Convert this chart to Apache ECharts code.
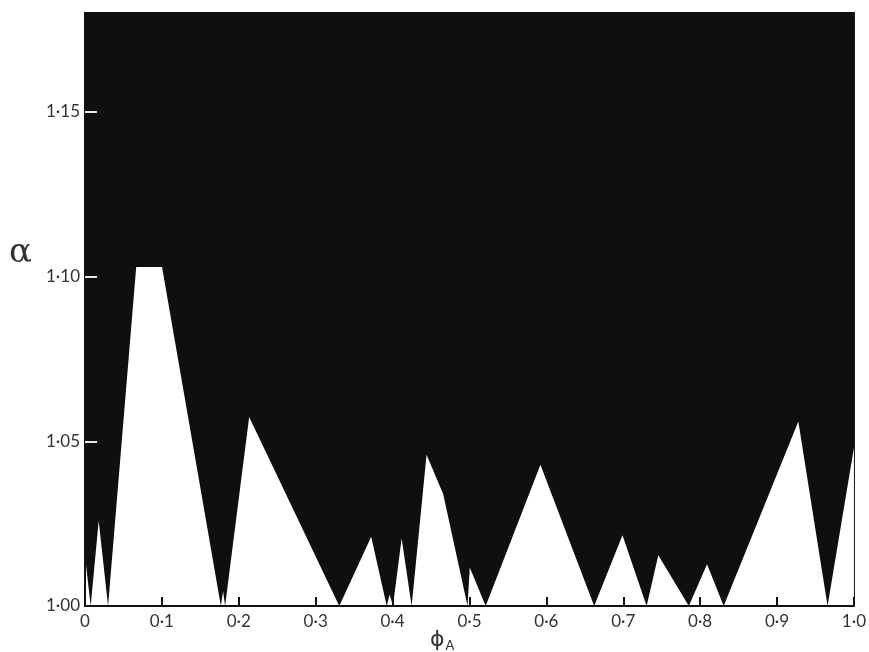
<!DOCTYPE html>
<html>
<head>
<meta charset="utf-8">
<script src="https://cdn.jsdelivr.net/npm/echarts@6/dist/echarts.min.js"></script>
<style>
html,body{margin:0;padding:0;background:#fff;}
#chart{width:869px;height:652px;}
</style>
</head>
<body>
<div id="chart"></div>
<script>
// Boundary of the white (lower) region: phi_A values and alpha values
const phiA = [0, 0.0074, 0.0178, 0.030, 0.0666, 0.1002, 0.1767, 0.1796, 0.1822, 0.2135,
  0.3307, 0.3722, 0.3924, 0.3962, 0.4005, 0.4118, 0.4248, 0.4442, 0.4658, 0.4975,
  0.5004, 0.5211, 0.5923, 0.6622, 0.6990, 0.7304, 0.7456, 0.7853, 0.8090, 0.8306,
  0.9277, 0.9657, 1.0];
const alpha = [1.0152, 1.0, 1.0259, 1.0, 1.1029, 1.1029, 1.0, 1.0045, 1.0, 1.0574,
  1.0, 1.021, 1.0, 1.0035, 1.0, 1.0205, 1.0, 1.0459, 1.034, 1.0,
  1.0117, 1.0, 1.0429, 1.0, 1.0215, 1.0, 1.0154, 1.0, 1.0127, 1.0,
  1.056, 1.0, 1.048];
const yTickValues = [1.00, 1.05, 1.10, 1.15];
const yInnerTicks = [1.05, 1.10, 1.15];

const data = phiA.map((x, i) => [x, alpha[i]]);
const chart = echarts.init(document.getElementById('chart'));
const font = 'Lato, "DejaVu Sans", sans-serif';
chart.setOption({
  animation: false,
  backgroundColor: '#fff',
  grid: {
    left: 85, right: 11, top: 13, bottom: 46,
    show: true, backgroundColor: '#0f0f0f', borderColor: '#111', borderWidth: 2
  },
  xAxis: {
    type: 'value', min: 0, max: 1, interval: 0.1, z: 10,
    axisLine: { show: true, lineStyle: { color: '#111', width: 2 } },
    axisTick: { show: true, inside: true, length: 9, lineStyle: { color: '#111', width: 2 } },
    axisLabel: {
      color: '#333', fontSize: 17, fontFamily: font, margin: 7,
      formatter: v => v === 0 ? '0' : v.toFixed(1).replace('.', '\u00b7')
    },
    splitLine: { show: false }
  },
  yAxis: {
    type: 'value', min: 1.0, max: 1.18, z: 10,
    axisLine: { show: true, lineStyle: { color: '#111', width: 2 } },
    axisTick: { show: true, inside: true, length: 12, customValues: yInnerTicks,
      lineStyle: { color: '#e8e8e8', width: 2 } },
    axisLabel: {
      color: '#333', fontSize: 17, fontFamily: font, margin: 5,
      customValues: yTickValues,
      formatter: v => v.toFixed(2).replace('.', '\u00b7')
    },
    splitLine: { show: false }
  },
  graphic: [
    { type: 'text', left: 9, top: 236, style: { text: '\u03b1', fontSize: 34, fontFamily: '"DejaVu Serif", serif', fill: '#333' } },
    { type: 'text', left: 430, top: 629, style: {
      text: '{p|\u03d5}{s|A}',
      rich: {
        p: { fontSize: 22, fontFamily: '"DejaVu Sans", sans-serif', fill: '#333' },
        s: { fontSize: 13, fontFamily: font, fill: '#333', padding: [12, 0, 0, 1] }
      }
    } }
  ],
  series: [{
    type: 'line', data: data, showSymbol: false, z: 2,
    lineStyle: { width: 0, color: '#fff' },
    areaStyle: { color: '#fff', opacity: 1, origin: 'start' }
  }]
});
</script>
</body>
</html>
